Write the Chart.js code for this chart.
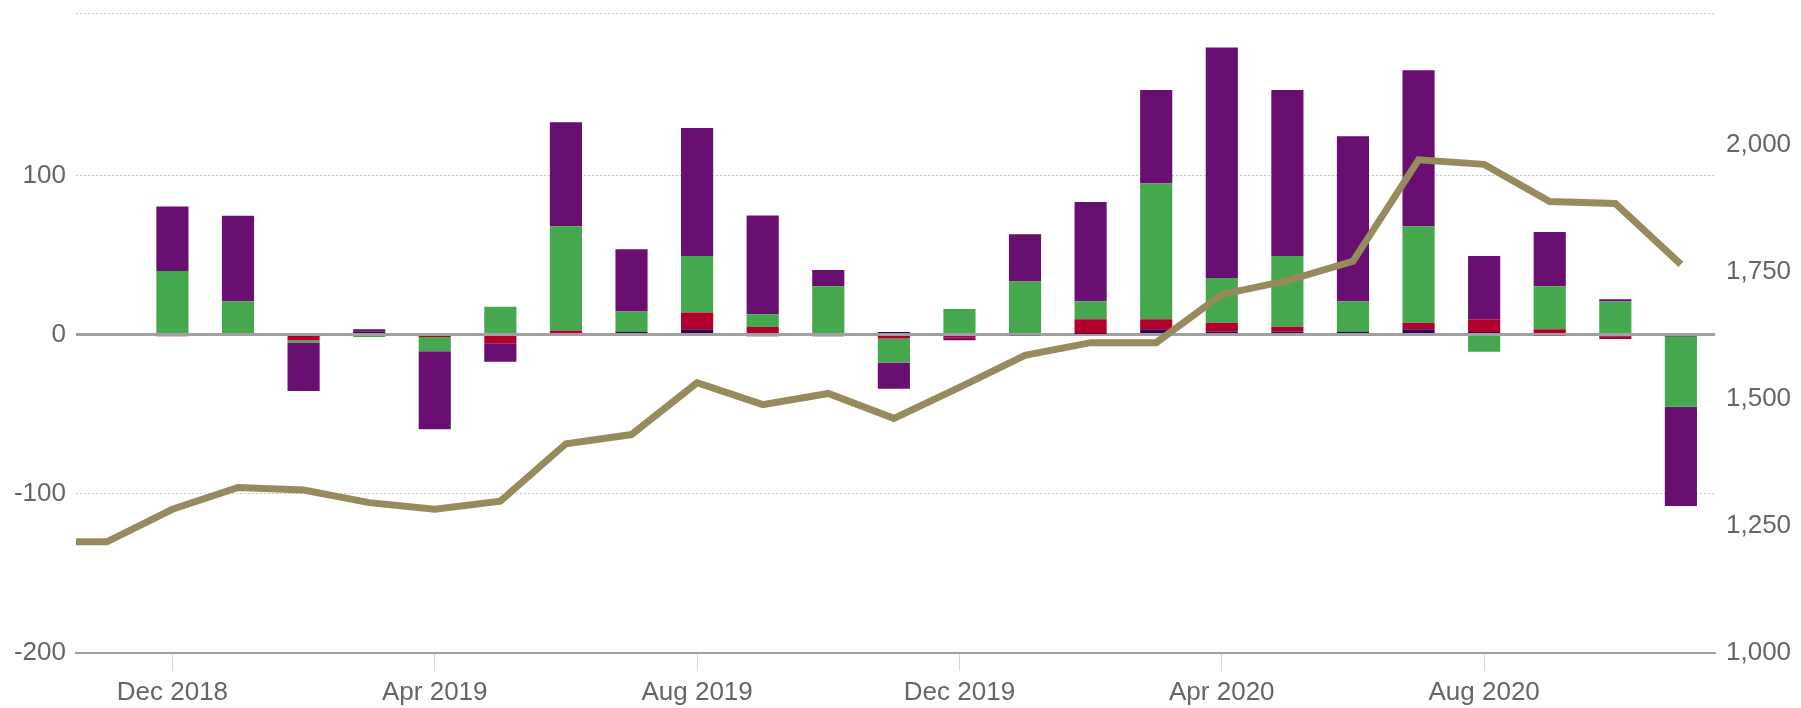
<!DOCTYPE html>
<html><head><meta charset="utf-8">
<script src="https://cdn.jsdelivr.net/npm/chart.js@4.4.1/dist/chart.umd.min.js"></script>
<style>html,body{margin:0;padding:0;background:#fff;overflow:hidden}#wrap{width:1801px;height:708px;position:relative}</style>
</head><body><div id="wrap"><canvas id="c" width="1801" height="708"></canvas></div>
<script>
// ---- data ----
const months = ['Oct 2018','Nov 2018','Dec 2018','Jan 2019','Feb 2019','Mar 2019','Apr 2019','May 2019','Jun 2019','Jul 2019','Aug 2019','Sep 2019','Oct 2019','Nov 2019','Dec 2019','Jan 2020','Feb 2020','Mar 2020','Apr 2020','May 2020','Jun 2020','Jul 2020','Aug 2020','Sep 2020','Oct 2020','Nov 2020'];
const navySeries   = [null,null, 0,   0,    0,    1.9, 0,    0,    1,    1.7,  3.4,  -1,  -1,   1.7,  0,    -0.8, 0.5,  3.4,  1.9,   1.9,   1.7,   3.4,  1.7,  -0.8, -1.2, -1.2];
const redSeries    = [null,null, -1,  0,    -3.5, 0,   -1.5, -5.5, 1.5,  0,    10.4, 4.8, 0,    -2.5, -2,   0,    9.1,  6.2,  5.6,   3.1,   0,     4.1,  7.9,  3.4,  -1.5, 0];
const greenSeries  = [null,null, 40,  21,   -1.5, -1.5,-9,   17.5, 65.6, 12.8, 35.5, 8,   30.4, -15,  16,   33.3, 11.4, 85.3, 28,    44.3,  19.3,  60.6, -10.8,27,   20.8, -44.2];
const purpleSeries = [null,null, 40.5,53.6, -30.5,1.5, -49,  -11.5,65.2, 39.1, 80.4, 62,  10.2, -16.5,-1.5, 29.7, 62.3, 58.7, 144.9, 104.3, 103.6, 97.9, 39.7, 34.1, 1.4,  -62.3];
const lineSeries   = [1219,1219,1283,1326,1321,1296,1283,1299,1412,1430,1532,1489,1511,1462,1523,1586,1611,1611,1706,1733,1771,1971,1962,1889,1885,1765];
const xTickLabels  = ['Dec 2018','Apr 2019','Aug 2019','Dec 2019','Apr 2020','Aug 2020'];
const leftTicks    = [-200,-100,0,100];
const rightTicks   = [1000,1250,1500,1750,2000];

// ---- build ----
const base = months.indexOf('Dec 2018');
const toXY = arr => arr.map((v,i)=>({x:i-base, y:v}));
const FONT = '"Liberation Sans", Arial, sans-serif';
Chart.defaults.font.family = FONT;
Chart.defaults.font.size = 26;
Chart.defaults.color = '#666666';

function barDs(label, arr, color){
  return {type:'bar', label, data:toXY(arr), backgroundColor:color,
    borderWidth:0, borderSkipped:false,
    barPercentage:0.49, categoryPercentage:1, yAxisID:'y', xAxisID:'x', order:2};
}
function zeroPad(s){ s.paddingTop=0; s.paddingBottom=0; s.paddingLeft=0; s.paddingRight=0; }

new Chart(document.getElementById('c'), {
  data:{ datasets:[
    barDs('A', navySeries, '#34004f'),
    barDs('B', redSeries, '#b1002b'),
    barDs('C', greenSeries, '#45a84e'),
    barDs('D', purpleSeries, '#680f71'),
    {type:'line', label:'L', data:toXY(lineSeries), borderColor:'#978b5d', borderWidth:7,
     pointRadius:0, tension:0, yAxisID:'y1', xAxisID:'x', order:0, clip:0}
  ]},
  options:{
    responsive:false, animation:false,
    layout:{padding:{top:13, left:0, right:0, bottom:0}},
    plugins:{legend:{display:false}, tooltip:{enabled:false}},
    scales:{
      x:{type:'linear', min:-1.47, max:23.52, stacked:true, offset:false,
        afterBuildTicks:s=>{ s.ticks = xTickLabels.map(l=>({value:months.indexOf(l)-base})); },
        ticks:{autoSkip:false, maxRotation:0, padding:6,
          callback:v=>months[v+base] || ''},
        grid:{offset:false, drawOnChartArea:false, drawTicks:true, tickLength:18, tickColor:'#ccd6eb', tickWidth:1},
        border:{display:true, color:'#a0a0a0', width:2},
        afterFit:s=>{ s.height = 55; zeroPad(s); }
      },
      y:{position:'left', stacked:true, min:-200, max:202,
        afterBuildTicks:s=>{ s.ticks = leftTicks.map(v=>({value:v})).concat([{value:s.max}]); },
        ticks:{padding:10, callback:v=> leftTicks.includes(v) ? String(v) : ''},
        grid:{drawTicks:false,
          color:c=> c.tick && c.tick.value===0 ? '#a0a0a0' : '#c4c4c4',
          lineWidth:c=> c.tick && c.tick.value===0 ? 3 : 1},
        border:{display:false, dash:c=> c.tick && c.tick.value===0 ? [] : [2,2]},
        afterFit:s=>{ s.width = 76; zeroPad(s); }
      },
      y1:{position:'right', min:1000, max:2260,
        afterBuildTicks:s=>{ s.ticks = rightTicks.map(v=>({value:v})); },
        ticks:{padding:11, callback:v=> Number(v).toLocaleString('en-US')},
        grid:{display:false, drawTicks:false},
        border:{display:false},
        afterFit:s=>{ s.width = 86; zeroPad(s); }
      }
    }
  }
});
</script></body></html>
